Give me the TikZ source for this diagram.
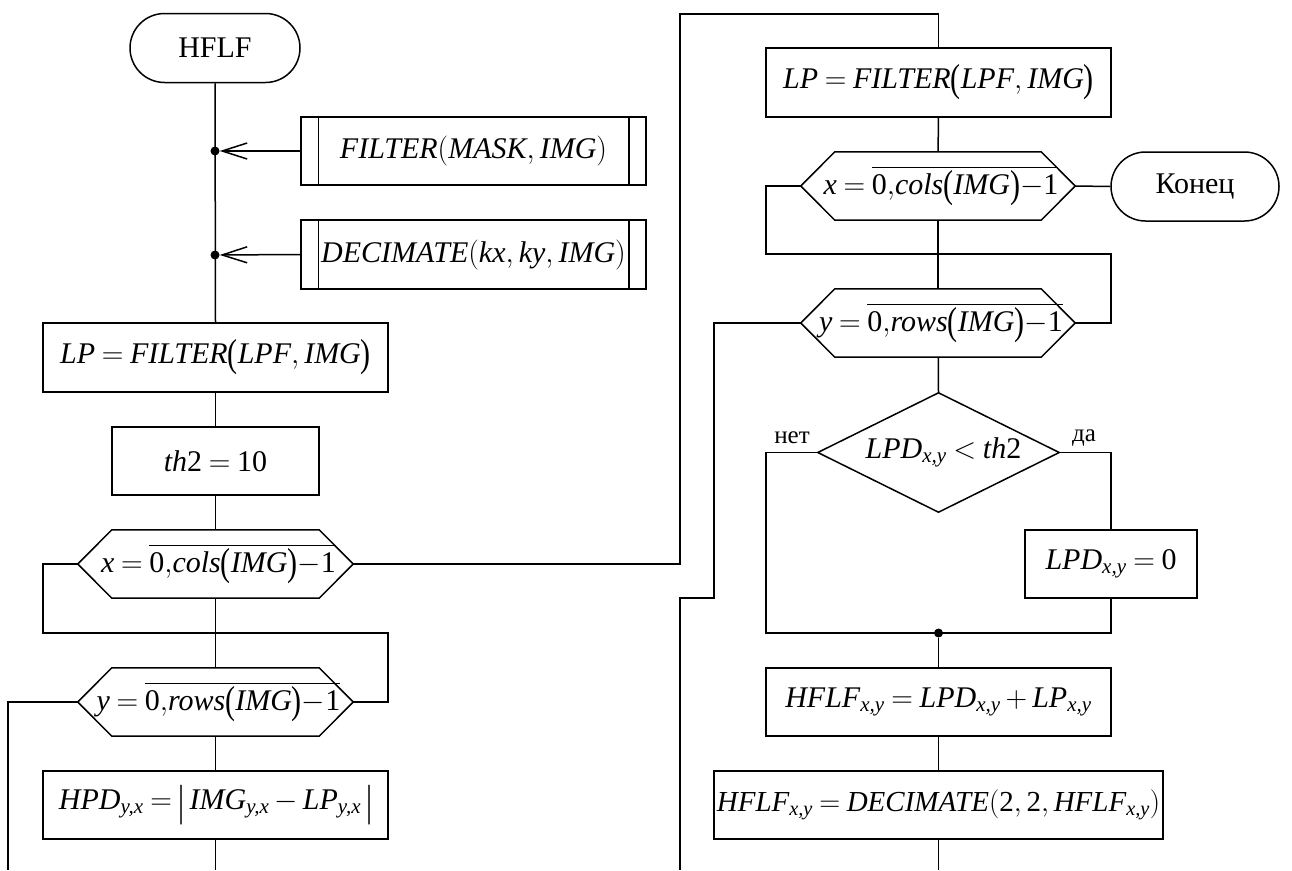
\RequirePackage{fix-cm}
\documentclass[tikz,border=0pt]{standalone}
\usepackage{amsmath}
\usepackage{fontspec}
\setmainfont{Liberation Serif}
\usetikzlibrary{shapes.misc,arrows.meta}

% italic identifiers and upright digits inside formulas
\newcommand\itx[1]{\textit{#1}}
\newcommand\upx[1]{\textup{#1}}
% slightly tall parentheses for function arguments
\newcommand\bpl{\mathopen{\raisebox{-0.1em}{\scalebox{1}[1.3]{\upshape(}}}}
\newcommand\bpr{\mathclose{\raisebox{-0.1em}{\scalebox{1}[1.3]{\upshape)}}}}
% tall absolute-value bar
\newcommand\bbar{\mathord{\raisebox{-0.2em}{\scalebox{1}[1.45]{\upshape|}}}}
% vertical bars of a predefined-process block
\newcommand\subbars[1]{%
  \draw[line] ([xshift=18pt]#1.north west) -- ([xshift=18pt]#1.south west)
              ([xshift=-18pt]#1.north east) -- ([xshift=-18pt]#1.south east);}
% hexagonal loop-limit outline around a rectangular node
\newcommand\hexframe[1]{%
  \draw[line] (#1.west) -- ([xshift=34pt]#1.north west) -- ([xshift=-34pt]#1.north east)
    -- (#1.east) -- ([xshift=-34pt]#1.south east) -- ([xshift=34pt]#1.south west) -- cycle;}

\thickmuskip=4mu plus 2mu
\medmuskip=3mu plus 2mu

\tikzset{
  line/.style={line width=1.5pt},
  txt/.style={font=\fontsize{30}{36}\selectfont},
  box/.style={txt, draw, line width=1.5pt, rectangle, inner sep=0pt, minimum height=68pt},
  term/.style={txt, draw, line width=1.5pt, rounded rectangle, inner sep=0pt,
    minimum width=170pt, minimum height=69pt},
  hexn/.style={txt, rectangle, inner sep=0pt, minimum width=275pt, minimum height=68pt},
  diamn/.style={txt, rectangle, inner sep=0pt, minimum width=241pt, minimum height=119pt},
  lbl/.style={font=\fontsize{25}{28}\selectfont, inner sep=0pt},
  dotc/.style={circle, fill, inner sep=0pt, minimum size=9pt},
  barb/.style={-{Straight Barb[length=25pt,width=16pt,line width=1.5pt]}}
}

\begin{document}
\begin{tikzpicture}[x=1pt,y=-1pt]
\useasboundingbox (0,0) rectangle (1292,870);

% ---------- left column ----------
\node[term] (start) at (215,48) {HFLF};
\node[box, minimum width=345pt] (filt) at (473.5,151)
  {$\itx{FILTER}(\itx{MASK}, \itx{IMG})$};
\subbars{filt}
\node[box, minimum width=345pt, minimum height=69pt] (deci) at (473.5,254.5)
  {$\itx{DECIMATE}(\itx{kx}, \itx{ky}, \itx{IMG})$};
\subbars{deci}
\node[dotc] (d1) at (215,151) {};
\node[dotc] (d2) at (215,255) {};
\node[box, minimum width=345pt, minimum height=69pt] (lp1) at (215.5,357.5)
  {$\itx{LP} = \itx{FILTER}\bpl\itx{LPF}, \itx{IMG}\bpr$};
\node[box, minimum width=207pt] (th) at (215.5,461) {$\itx{th}\upx{2} = \upx{10}$};
\node[hexn] (hx1) at (215.5,564)
  {\hspace*{6pt}$\itx{x} = \overline{\upx{0}{,}\itx{cols}\bpl\itx{IMG}\bpr{-}\upx{1}}$};
\hexframe{hx1}
\node[hexn] (hy1) at (215.5,702)
  {\hspace*{6pt}$\itx{y} = \overline{\upx{0}{,}\itx{rows}\bpl\itx{IMG}\bpr{-}\upx{1}}$};
\hexframe{hy1}
\node[box, minimum width=345pt] (hpd) at (215.5,805)
  {$\itx{HPD}_{\itx{y,x}} = \bbar\,\itx{IMG}_{\itx{y,x}} - \itx{LP}_{\itx{y,x}}\,\bbar$};

\coordinate (bot1) at (215.5,870);
\coordinate (bot2) at (8,870);
\coordinate (la) at (43,633);
\coordinate (lb) at (388,633);
\coordinate (up) at (680,14);

% ---------- right column ----------
\node[box, minimum width=345pt, minimum height=69pt] (lp2) at (938.5,82.5)
  {$\itx{LP} = \itx{FILTER}\bpl\itx{LPF}, \itx{IMG}\bpr$};
\node[hexn, minimum width=274pt] (hx2) at (938,186)
  {\hspace*{6pt}$\itx{x} = \overline{\upx{0}{,}\itx{cols}\bpl\itx{IMG}\bpr{-}\upx{1}}$};
\hexframe{hx2}
\node[term, minimum width=168pt] (fin) at (1195,186.5) {Конец};
\node[hexn, minimum width=274pt] (hy2) at (938,323)
  {\hspace*{6pt}$\itx{y} = \overline{\upx{0}{,}\itx{rows}\bpl\itx{IMG}\bpr{-}\upx{1}}$};
\hexframe{hy2}
\node[diamn] (cond) at (938.5,452.5) {\hspace*{10pt}$\itx{LPD}_{\itx{x,y}} < \itx{th}\upx{2}$};
\draw[line] (cond.north) -- (cond.east) -- (cond.south) -- (cond.west) -- cycle;
\node[lbl] (no) at (792,438) {нет};
\node[lbl] (yes) at (1084,438) {да};
\node[box, minimum width=172pt] (lpd0) at (1111,564) {$\itx{LPD}_{\itx{x,y}} = \upx{0}$};
\node[dotc] (d3) at (938.5,633) {};
\node[box, minimum width=345pt] (hf1) at (938.5,702)
  {$\itx{HFLF}_{\itx{x,y}} = \itx{LPD}_{\itx{x,y}} + \itx{LP}_{\itx{x,y}}$};
\node[box, minimum width=449pt, font=\fontsize{29}{34}\selectfont] (hf2) at (938.5,805)
  {$\itx{HFLF}_{\itx{x,y}} = \itx{DECIMATE}(\upx{2}, \upx{2}, \itx{HFLF}_{\itx{x,y}})$};

\coordinate (bot3) at (938.5,870);
\coordinate (bot4) at (680,870);
\coordinate (ra) at (766,254);
\coordinate (rb) at (1111,254);
\coordinate (sa) at (714,598);
\coordinate (na) at (766,633);

% ---------- connectors, left ----------
\draw[line] (start.south) -- (lp1.north);
\draw[line, barb] (filt.west) -- (d1);
\draw[line, barb] (deci.west) -- (d2);
\draw[line] (lp1) -- (th);
\draw[line] (th) -- (hx1);
\draw[line] (hx1) -- (hy1);
\draw[line] (hy1) -- (hpd);
\draw[line] (hpd) -- (bot1);
\draw[line] (hx1.west) -| (la) -- (lb) |- (hy1.east);
\draw[line] (hx1.east) -| (up) -| (lp2.north);
\draw[line] (hy1.west) -| (bot2);

% ---------- connectors, right ----------
\draw[line] (lp2) -- (hx2);
\draw[line] (hx2.east) -- (fin.west);
\draw[line] (hx2) -- (hy2);
\draw[line] (hx2.west) -| (ra) -- (rb) |- (hy2.east);
\draw[line] (hy2.west) -| (sa) -| (bot4);
\draw[line] (hy2) -- (cond.north);
\draw[line] (cond.west) -| (na) -| (lpd0.south);
\draw[line] (cond.east) -| (lpd0.north);
\draw[line] (d3) -- (hf1);
\draw[line] (hf1) -- (hf2);
\draw[line] (hf2) -- (bot3);
\end{tikzpicture}
\end{document}
